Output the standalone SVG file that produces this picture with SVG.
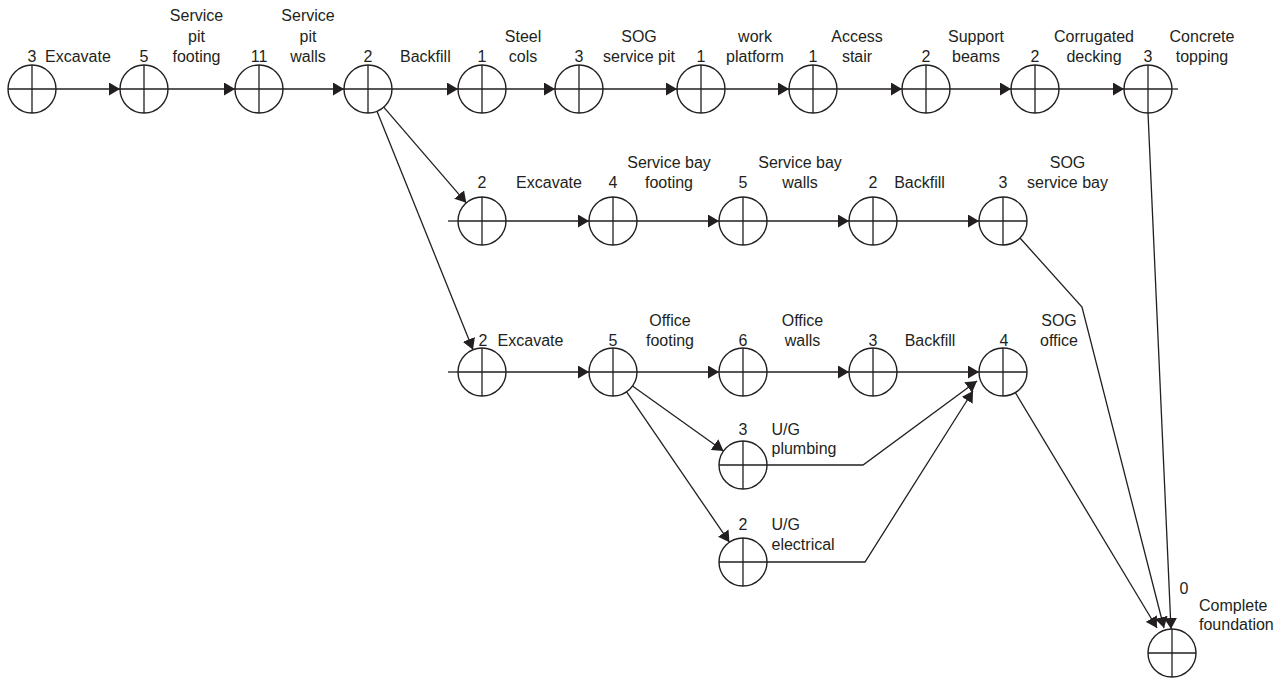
<svg xmlns="http://www.w3.org/2000/svg" width="1282" height="679" viewBox="0 0 1282 679">
  <defs>
    <style>
      .bg { fill: #ffffff; }
      .ring { fill: #ffffff; stroke: #231f20; stroke-width: 1.4; }
      .cross { stroke: #231f20; stroke-width: 1.3; fill: none; }
      .edge { stroke: #231f20; stroke-width: 1.3; fill: none; }
      .arrow { marker-end: url(#head); }
      text { font-family: "Liberation Sans", Arial, sans-serif; font-size: 16px; fill: #231f20; }
      .c { text-anchor: middle; }
    </style>
    <marker id="head" markerUnits="userSpaceOnUse" markerWidth="12" markerHeight="13" refX="11" refY="6.5" orient="auto">
      <path d="M0,0 L11,6.5 L0,13 z" fill="#231f20"/>
    </marker>
    <!-- activity node: circle split into quadrants -->
    <g id="node">
      <circle class="ring" cx="0" cy="0" r="24"/>
      <path class="cross" d="M-24,0 H24 M0,-24 V24"/>
    </g>
  </defs>

  <rect class="bg" x="0" y="0" width="1282" height="679"/>

  <!-- connectors -->
  <g id="connectors">
    <!-- service pit chain -->
    <path class="edge arrow" d="M56,89 H120"/>
    <path class="edge arrow" d="M168,89 H235"/>
    <path class="edge arrow" d="M283,89 H344"/>
    <path class="edge arrow" d="M392,89 H458"/>
    <path class="edge arrow" d="M506,89 H555"/>
    <path class="edge arrow" d="M603,89 H677"/>
    <path class="edge arrow" d="M725,89 H789"/>
    <path class="edge arrow" d="M837,89 H902"/>
    <path class="edge arrow" d="M950,89 H1011"/>
    <path class="edge arrow" d="M1059,89 H1124"/>
    <path class="edge" d="M1172,89 H1178"/>
    <!-- branches from backfill -->
    <path class="edge arrow" d="M383.7,107.2 L466.3,202.8"/>
    <path class="edge arrow" d="M377,111.3 L473,349.7"/>
    <!-- service bay chain -->
    <path class="edge" d="M448,221 H458"/>
    <path class="edge arrow" d="M506,221 H589"/>
    <path class="edge arrow" d="M637,221 H719"/>
    <path class="edge arrow" d="M767,221 H849"/>
    <path class="edge arrow" d="M897,221 H979"/>
    <!-- office chain -->
    <path class="edge" d="M448,372 H458"/>
    <path class="edge arrow" d="M506,372 H589"/>
    <path class="edge arrow" d="M637,372 H719"/>
    <path class="edge arrow" d="M767,372 H849"/>
    <path class="edge arrow" d="M897,372 H979"/>
    <!-- underground services -->
    <path class="edge arrow" d="M632.5,386 L723.5,451"/>
    <path class="edge arrow" d="M626.6,391.8 L729.4,542.2"/>
    <path class="edge arrow" d="M767,465 H863 L977,381"/>
    <path class="edge arrow" d="M767,562 H865 L973,391"/>
    <!-- into complete foundation -->
    <path class="edge arrow" d="M1020,238 L1082,307 L1164,628"/>
    <path class="edge arrow" d="M1015,392 L1157,628"/>
    <path class="edge arrow" d="M1148,113 L1171,629"/>
  </g>

  <!-- service pit chain -->
  <g id="n-excavate-pit"><use href="#node" x="32" y="89"/><text class="c" x="32" y="61.5">3</text><text x="45" y="61.5">Excavate</text></g>
  <g id="n-pit-footing"><use href="#node" x="144" y="89"/><text class="c" x="144" y="61.5">5</text><text class="c" x="196.5" y="21">Service</text><text class="c" x="196.5" y="41.5">pit</text><text class="c" x="196.5" y="61.5">footing</text></g>
  <g id="n-pit-walls"><use href="#node" x="259" y="89"/><text class="c" x="259" y="61.5">11</text><text class="c" x="308" y="21">Service</text><text class="c" x="308" y="41.5">pit</text><text class="c" x="308" y="61.5">walls</text></g>
  <g id="n-backfill-pit"><use href="#node" x="368" y="89"/><text class="c" x="368" y="61.5">2</text><text x="400" y="61.5">Backfill</text></g>
  <g id="n-steel-cols"><use href="#node" x="482" y="89"/><text class="c" x="482" y="61.5">1</text><text class="c" x="523" y="41.5">Steel</text><text class="c" x="523" y="61.5">cols</text></g>
  <g id="n-sog-pit"><use href="#node" x="579" y="89"/><text class="c" x="579" y="61.5">3</text><text class="c" x="639" y="41.5">SOG</text><text class="c" x="639" y="61.5">service pit</text></g>
  <g id="n-work-platform"><use href="#node" x="701" y="89"/><text class="c" x="701" y="61.5">1</text><text class="c" x="755" y="41.5">work</text><text class="c" x="755" y="61.5">platform</text></g>
  <g id="n-access-stair"><use href="#node" x="813" y="89"/><text class="c" x="813" y="61.5">1</text><text class="c" x="857" y="41.5">Access</text><text class="c" x="857" y="61.5">stair</text></g>
  <g id="n-support-beams"><use href="#node" x="926" y="89"/><text class="c" x="926" y="61.5">2</text><text class="c" x="976" y="41.5">Support</text><text class="c" x="976" y="61.5">beams</text></g>
  <g id="n-decking"><use href="#node" x="1035" y="89"/><text class="c" x="1035" y="61.5">2</text><text class="c" x="1094" y="41.5">Corrugated</text><text class="c" x="1094" y="61.5">decking</text></g>
  <g id="n-topping"><use href="#node" x="1148" y="89"/><text class="c" x="1148" y="61.5">3</text><text class="c" x="1202" y="41.5">Concrete</text><text class="c" x="1202" y="61.5">topping</text></g>

  <!-- service bay chain -->
  <g id="n-excavate-bay"><use href="#node" x="482" y="221"/><text class="c" x="482" y="188">2</text><text class="c" x="549" y="188">Excavate</text></g>
  <g id="n-bay-footing"><use href="#node" x="613" y="221"/><text class="c" x="613" y="188">4</text><text class="c" x="669" y="168">Service bay</text><text class="c" x="669" y="188">footing</text></g>
  <g id="n-bay-walls"><use href="#node" x="743" y="221"/><text class="c" x="743" y="188">5</text><text class="c" x="800" y="168">Service bay</text><text class="c" x="800" y="188">walls</text></g>
  <g id="n-backfill-bay"><use href="#node" x="873" y="221"/><text class="c" x="873" y="188">2</text><text class="c" x="919.5" y="188">Backfill</text></g>
  <g id="n-sog-bay"><use href="#node" x="1003" y="221"/><text class="c" x="1003" y="188">3</text><text class="c" x="1067.5" y="168">SOG</text><text class="c" x="1067.5" y="188">service bay</text></g>

  <!-- office chain -->
  <g id="n-excavate-office"><use href="#node" x="482" y="372"/><text class="c" x="483" y="345.5">2</text><text class="c" x="530.5" y="345.5">Excavate</text></g>
  <g id="n-office-footing"><use href="#node" x="613" y="372"/><text class="c" x="613" y="345.5">5</text><text class="c" x="670" y="326">Office</text><text class="c" x="670" y="345.5">footing</text></g>
  <g id="n-office-walls"><use href="#node" x="743" y="372"/><text class="c" x="743" y="345.5">6</text><text class="c" x="802.5" y="326">Office</text><text class="c" x="802.5" y="345.5">walls</text></g>
  <g id="n-backfill-office"><use href="#node" x="873" y="372"/><text class="c" x="873" y="345.5">3</text><text class="c" x="930" y="345.5">Backfill</text></g>
  <g id="n-sog-office"><use href="#node" x="1003" y="372"/><text class="c" x="1004" y="345.5">4</text><text class="c" x="1059" y="326">SOG</text><text class="c" x="1059" y="345.5">office</text></g>

  <!-- underground services -->
  <g id="n-plumbing"><use href="#node" x="743" y="465"/><text class="c" x="743" y="434.5">3</text><text x="771.5" y="434.5">U/G</text><text x="771.5" y="454">plumbing</text></g>
  <g id="n-electrical"><use href="#node" x="743" y="562"/><text class="c" x="743" y="530">2</text><text x="771.5" y="530">U/G</text><text x="771.5" y="550">electrical</text></g>

  <!-- finish -->
  <g id="n-complete"><use href="#node" x="1172" y="653"/><text class="c" x="1184" y="593.5">0</text><text x="1199" y="611">Complete</text><text x="1199" y="629.5">foundation</text></g>
</svg>
